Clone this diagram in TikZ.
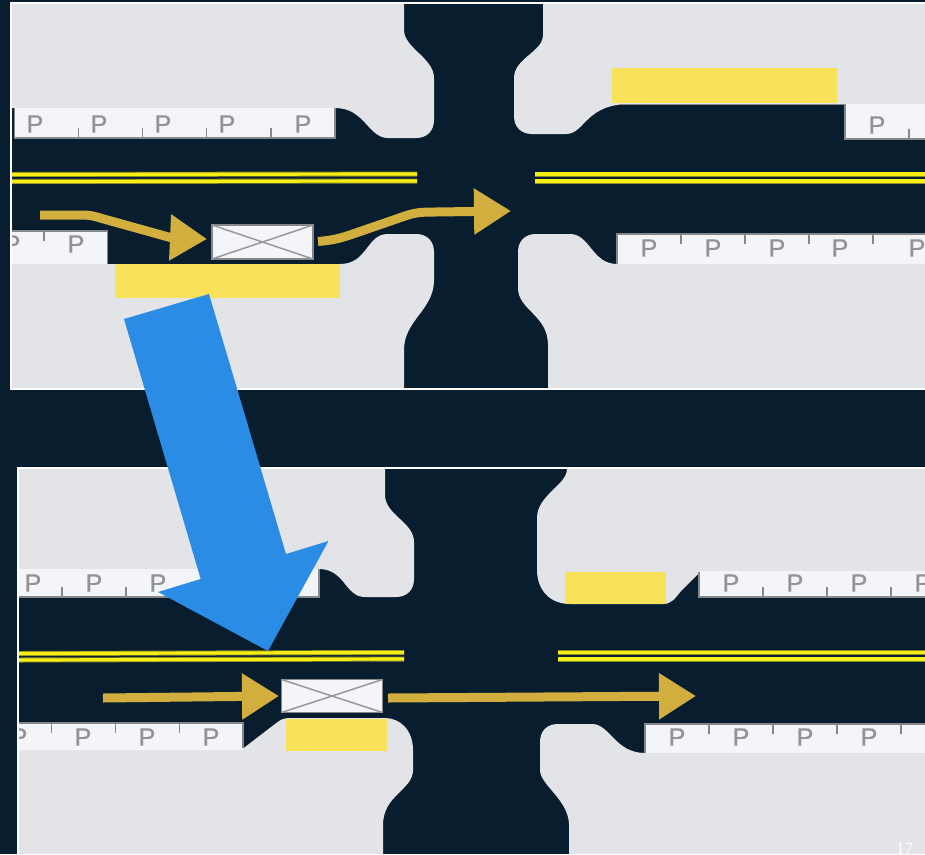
\documentclass[tikz,border=0pt]{standalone}
\usepackage{fontspec}
\setmainfont{Liberation Sans}
\newfontfamily\pagefont{Liberation Serif}
\newfontfamily\pfont[FakeBold=0.35]{Liberation Sans}
\usetikzlibrary{arrows.meta}
\definecolor{road}{HTML}{081E2F}
\definecolor{block}{HTML}{E3E4E8}
\definecolor{strip}{HTML}{F4F5F8}
\definecolor{edgegray}{HTML}{85878A}
\definecolor{hl}{HTML}{F8E25A}
\definecolor{gold}{HTML}{D1AE3E}
\definecolor{bluearrow}{HTML}{2A8CE4}
\definecolor{lineyellow}{HTML}{F7EE14}
\definecolor{lineedge}{HTML}{8C8C28}
\tikzset{
  blockshape/.style={fill=block,draw=none},
  stripshape/.style={fill=strip,draw=none},
  stripedge/.style={draw=edgegray,line width=1.8pt},
  tickmark/.style={draw=edgegray,line width=1.2pt},
  ptext/.style={text=edgegray!90!white,font=\pfont\fontsize{25}{25}\selectfont,inner sep=0pt,anchor=center},
  hlbox/.style={fill=hl,draw=none},
  vehicle/.style={fill=strip,draw=edgegray,line width=1.9pt,minimum width=101pt,minimum height=34pt,inner sep=0pt,outer sep=0pt},
  crossline/.style={draw=edgegray!85!white,line width=1.5pt},
  goldarrow/.style={draw=gold,line width=9pt,-{Triangle[length=37pt,width=44pt,fill=gold]}},
  borderline/.style={draw=white,line width=1.6pt},
  centreedge/.style={draw=lineedge,line width=5pt},
  centrefill/.style={draw=lineyellow,line width=3.2pt},
}
\newcommand{\centreline}[2]{%
  \draw[centreedge] (#1) -- (#2);
  \draw[centrefill] (#1) -- (#2);}
\begin{document}
\begin{tikzpicture}[x=1pt,y=-1pt]
\useasboundingbox (0,0) rectangle (925,854);
\fill[road] (0,0) rectangle (925,854);

% ---------- upper panel ----------
\begin{scope}
\clip (11,3) rectangle (925,389);
\path[blockshape] (11,4) -- (404,4) -- (404,30) .. controls (404,48) and (434,58) .. (434,78) -- (434,120) .. controls (434,131) and (427,138) .. (416,138) -- (388,138) .. controls (368,138) and (365,108) .. (335,108) -- (11,108) -- cycle;
\path[blockshape] (11,389) -- (404,389) -- (404,350) .. controls (404,320) and (434,310) .. (434,280) -- (434,252) .. controls (434,241) and (427,234) .. (416,234) -- (388,234) .. controls (366,234) and (368,264) .. (340,264) -- (11,264) -- cycle;
\path[blockshape] (925,4) -- (543,4) -- (543,35) .. controls (543,52) and (514,58) .. (514,78) -- (514,116) .. controls (514,127) and (521,134) .. (532,134) -- (566,134) .. controls (585,134) and (585,104) .. (630,104) -- (925,104) -- cycle;
\path[blockshape] (925,389) -- (548,389) -- (548,345) .. controls (548,315) and (518,310) .. (518,288) -- (518,252) .. controls (518,241) and (525,234) .. (536,234) -- (570,234) .. controls (590,234) and (592,264) .. (617,264) -- (925,264) -- cycle;

% parking strips
\path[stripshape] (14,108) rectangle (335,138);
\draw[stripedge] (14.5,108) -- (14.5,138) -- (335,138) -- (335,108);
\foreach \x in {78.5,142.5,206.5,271} \draw[tickmark] (\x,128) -- (\x,138);
\foreach \x in {35,99,163,227,303} \node[ptext] (pa\x) at (\x,124) {P};

\path[stripshape] (11,231) rectangle (108,264);
\draw[stripedge] (11,231) -- (107.5,231) -- (107.5,264);
\draw[tickmark] (44,231) -- (44,241);
\foreach \x in {12,76} \node[ptext] (pb\x) at (\x,244) {P};

\path[stripshape] (845,104) rectangle (925,139);
\draw[stripedge] (845,104) -- (845,139) -- (925,139);
\draw[stripedge,line width=1pt] (620,104.3) -- (845,104.3);
\draw[tickmark] (909,129) -- (909,139);
\node[ptext] (pc1) at (877,125) {P};

\path[stripshape] (617,234) rectangle (925,264);
\draw[stripedge] (617,264) -- (617,234) -- (925,234);
\foreach \x in {681,745,809,873} \draw[tickmark] (\x,234) -- (\x,244);
\foreach \x in {649,713,777,840,917} \node[ptext] (pd\x) at (\x,248) {P};

% highlights
\path[hlbox] (612,68) rectangle (837,103);
\path[hlbox] (115,264) rectangle (340,297.5);

% centre lines
\coordinate (la1) at (12,174.5); \coordinate (la2) at (417,174);
\coordinate (lb1) at (12,181.5); \coordinate (lb2) at (417,181);
\coordinate (lc1) at (535,174); \coordinate (lc2) at (925,174);
\coordinate (ld1) at (535,181); \coordinate (ld2) at (925,181);
\centreline{la1}{la2}
\centreline{lb1}{lb2}
\centreline{lc1}{lc2}
\centreline{ld1}{ld2}
\end{scope}

\draw[borderline] (925,3) -- (11,3) -- (11,389) -- (925,389);

% vehicle upper
\node[vehicle] (carA) at (262.5,242) {};
\draw[crossline] (carA.north west) -- (carA.south east);
\draw[crossline] (carA.south west) -- (carA.north east);

\coordinate (a1s) at (40,215);
\coordinate (a1e) at (207,239);
\draw[goldarrow] (a1s) -- (82,215) .. controls (90,215) and (94,216) .. (102,218.5) -- (169.9,237.4) -- (a1e);
\coordinate (a2s) at (318,241.5);
\coordinate (a2e) at (511,211);
\draw[goldarrow] (a2s) .. controls (330,240.5) and (338,239) .. (350,235) -- (405,216) .. controls (415,212.5) and (422,212) .. (435,212) -- (a2e);

% ---------- lower panel ----------
\begin{scope}
\clip (18,468) rectangle (925,854);
\path[blockshape] (18,469) -- (385,469) -- (385,495) .. controls (385,515) and (414,522) .. (414,542) -- (414,579) .. controls (414,590) and (407,597) .. (396,597) -- (365,597) .. controls (345,597) and (345,569) .. (319,569) -- (18,569) -- cycle;
\path[blockshape] (18,854) -- (383,854) -- (383,825) .. controls (383,795) and (413,790) .. (413,770) -- (413,750) .. controls (413,730) and (400,718) .. (385,718) -- (290,718) .. controls (283,718) and (280,720) .. (275,724) -- (245,747) .. controls (243,749) and (241,750) .. (238,750) -- (18,750) -- cycle;
\path[blockshape] (925,469) -- (567,469) .. controls (567,485) and (537,495) .. (537,518) -- (537,570) .. controls (537,590) and (550,604) .. (570,604) -- (663,604) .. controls (672,604) and (675,598) .. (682,590) -- (699,573) .. controls (701,571.5) and (703,571) .. (706,571) -- (925,571) -- cycle;
\path[blockshape] (925,854) -- (569,854) -- (569,825) .. controls (569,800) and (540,785) .. (540,770) -- (540,742) .. controls (540,731) and (547,724) .. (558,724) -- (592,724) .. controls (610,724) and (615,753) .. (645,753) -- (925,753) -- cycle;

\path[stripshape] (18,569) rectangle (319,597);
\draw[stripedge] (18,597) -- (319,597) -- (319,569);
\foreach \x in {62,126} \draw[tickmark] (\x,587) -- (\x,597);
\foreach \x in {33,94,158} \node[ptext] (pe\x) at (\x,583) {P};

\path[stripshape] (18,723) rectangle (243,750);
\draw[stripedge] (18,723) -- (243,723) -- (243,748);
\foreach \x in {51.5,115.5,179.5} \draw[tickmark] (\x,723) -- (\x,733);
\foreach \x in {19,83,147,211} \node[ptext] (pf\x) at (\x,737) {P};

\path[stripshape] (699,571) rectangle (925,597);
\draw[stripedge] (699,572) -- (699,597) -- (925,597);
\foreach \x in {763,827,891} \draw[tickmark] (\x,587) -- (\x,597);
\foreach \x in {731,795,859,923} \node[ptext] (pg\x) at (\x,583) {P};

\path[stripshape] (645,724) rectangle (925,753);
\draw[stripedge] (645,753) -- (645,724) -- (925,724);
\foreach \x in {709,773,837,901} \draw[tickmark] (\x,724) -- (\x,734);
\foreach \x in {677,741,805,869} \node[ptext] (ph\x) at (\x,737) {P};

\path[hlbox] (286,718.5) rectangle (387,751);
\path[hlbox] (565,572) rectangle (666,604);

\coordinate (le1) at (18,653.5); \coordinate (le2) at (404,652.5);
\coordinate (lf1) at (18,660); \coordinate (lf2) at (404,659);
\coordinate (lg1) at (558,652.5); \coordinate (lg2) at (925,652.5);
\coordinate (lh1) at (558,659); \coordinate (lh2) at (925,659);
\centreline{le1}{le2}
\centreline{lf1}{lf2}
\centreline{lg1}{lg2}
\centreline{lh1}{lh2}

\node[font=\pagefont\fontsize{17}{17}\selectfont,text=white!97!block,anchor=base,inner sep=0pt] (pagenum) at (904.5,854) {17};
\end{scope}

\draw[borderline] (925,468) -- (18,468) -- (18,854);

% vehicle lower
\node[vehicle,minimum height=33pt] (carB) at (332,696) {};
\draw[crossline] (carB.north west) -- (carB.south east);
\draw[crossline] (carB.south west) -- (carB.north east);

\coordinate (a3s) at (103,698);
\coordinate (a3e) at (279,696);
\draw[goldarrow] (a3s) -- (a3e);
\coordinate (a4s) at (388,698);
\coordinate (a4e) at (696,696);
\draw[goldarrow] (a4s) -- (a4e);

% big blue arrow
\fill[bluearrow] (124,319) -- (209,294) -- (286,554) -- (328.5,541) -- (268,651) -- (158,592) -- (200.7,579) -- cycle;
\end{tikzpicture}
\end{document}
